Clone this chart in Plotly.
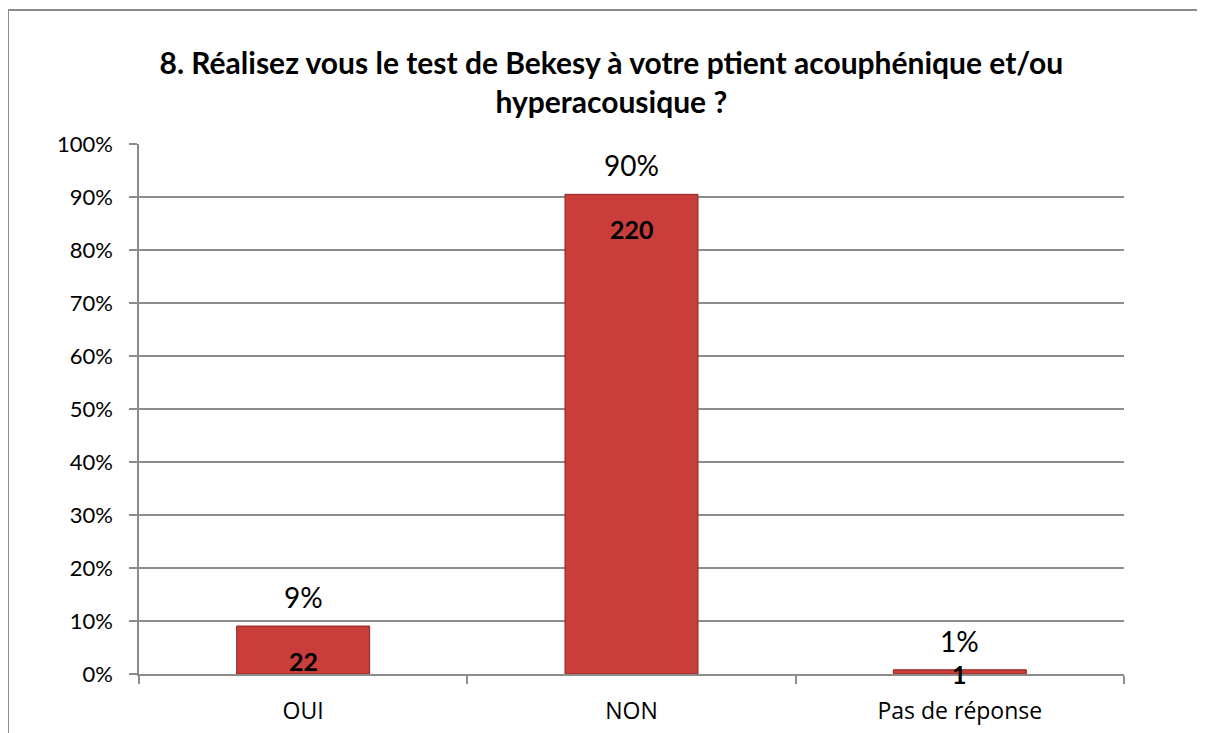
import plotly.graph_objects as go

# Data
categories = ['OUI', 'NON', 'Pas de réponse']
percent_values = [9.05, 90.5, 0.8]
percent_labels = ['9%', '90%', '1%']
count_labels = ['22', '220', '1']

title_text = ('<b>8. Réalisez vous le test de Bekesy à votre ptient acouphénique et/ou'
              '<br>hyperacousique ?</b>')

font_family = 'Lato, Carlito, Calibri, sans-serif'
xlabel_family = 'Open Sans, Segoe UI, sans-serif'
grid_color = '#8C8C8C'

fig = go.Figure()

fig.add_trace(go.Bar(x = categories,
                     y = percent_values,
                     marker = dict(color = '#C93D3A',
                                   line = dict(color = '#8E2522', width = 1)),
                     hoverinfo = 'skip'))

# Percent labels above the bars
for cat, val, lab in zip(categories, percent_values, percent_labels):
    fig.add_annotation(x = cat, y = val, text = lab, showarrow = False,
                       yanchor = 'middle', yshift = 29,
                       font = dict(family = font_family, size = 28, color = '#000000'))

# Count labels inside the bars (bold)
for cat, val, lab in zip(categories, percent_values, count_labels):
    if val < 5:
        y_pos, shift = 0, 0
    else:
        y_pos, shift = val, -35
    fig.add_annotation(x = cat, y = y_pos, text = '<b>' + lab + '</b>', showarrow = False,
                       yanchor = 'middle', yshift = shift,
                       font = dict(family = font_family, size = 25, color = '#000000'))

# Outer border of the chart area (top and left visible)
fig.add_shape(type = 'line', xref = 'paper', yref = 'paper',
              x0 = -0.133, x1 = 1.2, y0 = 1.2528, y1 = 1.2528,
              line = dict(color = grid_color, width = 2))
fig.add_shape(type = 'line', xref = 'paper', yref = 'paper',
              x0 = -0.133, x1 = -0.133, y0 = 1.2528, y1 = -0.2,
              line = dict(color = grid_color, width = 2))

# the page body adds an 8px margin, so the figure is sized to fit inside it
fig.update_layout(width = 1197, height = 725,
                  margin = dict(l = 131, r = 81, t = 136, b = 59),
                  paper_bgcolor = 'white',
                  plot_bgcolor = 'white',
                  showlegend = False,
                  bargap = 0.595,
                  font = dict(family = font_family, size = 22, color = '#000000'),
                  title = dict(text = title_text, x = 0.504, xanchor = 'center',
                               y = 0.909, yanchor = 'middle',
                               font = dict(family = font_family, size = 30, color = '#000000')))

fig.update_xaxes(showline = True, linecolor = grid_color, linewidth = 1.5,
                 ticks = 'outside', tickson = 'boundaries', ticklen = 8,
                 tickcolor = grid_color, tickwidth = 1.5, ticklabelstandoff = 16,
                 automargin = False,
                 showgrid = False, tickfont = dict(family = xlabel_family, size = 23))

fig.update_yaxes(range = [0, 100], dtick = 10, ticksuffix = '%',
                 showline = True, linecolor = grid_color, linewidth = 1.5,
                 ticks = 'outside', ticklen = 8, tickcolor = grid_color, tickwidth = 1.5,
                 ticklabelstandoff = 12, automargin = False,
                 showgrid = True, gridcolor = grid_color, gridwidth = 1.5,
                 zeroline = False, tickfont = dict(size = 22))

fig.write_html('out.html')
